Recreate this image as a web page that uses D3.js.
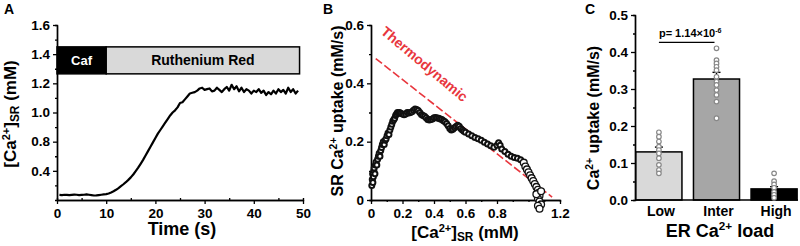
<!DOCTYPE html>
<html>
<head>
<meta charset="utf-8">
<script src="https://cdn.jsdelivr.net/npm/d3@7"></script>
<style>
    body { margin: 0; background: #fff; }
    svg text { font-family: "Liberation Sans", Arial, sans-serif; font-weight: bold; }
</style>
</head>
<body>
<svg id="chart"></svg>
<script>
// ---- Panel A : SR Ca trace ----
const traceTime = [0.5, 1, 1.5, 2, 2.5, 3, 3.5, 4, 4.5, 5, 5.5, 6, 6.5, 7, 7.5, 8, 8.5, 9, 9.5,
    10, 10.5, 11, 11.5, 12, 12.5, 13, 13.5, 14, 14.5, 15, 15.5, 16, 16.5, 17, 17.5, 18, 18.5, 19, 19.5,
    20, 20.5, 21, 21.5, 22, 22.5, 23, 23.5, 24, 24.5, 25, 25.5, 26, 26.5, 27, 27.5, 28, 28.5, 29, 29.5,
    30, 30.5, 31, 31.5, 32, 32.5, 33, 33.5, 34, 34.5, 35, 35.5, 36, 36.5, 37, 37.5, 38, 38.5, 39, 39.5,
    40, 40.5, 41, 41.5, 42, 42.5, 43, 43.5, 44, 44.5, 45, 45.5, 46, 46.5, 47, 47.5, 48, 48.5, 49];
const traceCa = [0.435, 0.434, 0.436, 0.435, 0.433, 0.435, 0.437, 0.436, 0.434, 0.435, 0.436, 0.438, 0.436, 0.434, 0.431, 0.432, 0.434, 0.436, 0.438,
    0.44, 0.445, 0.452, 0.46, 0.47, 0.482, 0.495, 0.508, 0.522, 0.538, 0.555, 0.575, 0.598, 0.622, 0.648, 0.675, 0.705, 0.735, 0.765, 0.795,
    0.825, 0.855, 0.88, 0.905, 0.93, 0.955, 0.98, 1.0, 1.015, 1.035, 1.065, 1.07, 1.09, 1.11, 1.13, 1.135, 1.14, 1.15, 1.165, 1.17,
    1.155, 1.16, 1.165, 1.145, 1.15, 1.17, 1.155, 1.14, 1.16, 1.175, 1.15, 1.19, 1.16, 1.18, 1.145, 1.17, 1.14, 1.16, 1.15, 1.13,
    1.15, 1.14, 1.16, 1.135, 1.15, 1.12, 1.14, 1.125, 1.15, 1.13, 1.16, 1.14, 1.155, 1.13, 1.17, 1.14, 1.16, 1.13, 1.15];
const protocolLabels = ['Caf', 'Ruthenium Red'];
const protocolStart = [0, 10];
const protocolEnd = [10, 49.3];
const aTicks = [0.6, 0.8, 1.0, 1.2, 1.4, 1.6];
const aTickLabels = ['0.4', '0.8', '1.0', '1.2', '1.4', '1.6'];   // as printed in the figure
const aTimeTicks = [0, 10, 20, 30, 40, 50];

// ---- Panel B : uptake vs SR Ca ----
const uptakeCa = [0.005, 0.008, 0.010, 0.012, 0.015, 0.018, 0.020, 0.025, 0.028, 0.032, 0.037, 0.042, 0.047, 0.052,
    0.057, 0.062, 0.067, 0.072, 0.078, 0.084, 0.090, 0.096, 0.102, 0.108, 0.114, 0.120, 0.126, 0.132, 0.138, 0.144,
    0.150, 0.156, 0.162, 0.168, 0.175, 0.182, 0.19, 0.20, 0.21, 0.22, 0.23, 0.24, 0.25, 0.26, 0.27, 0.28, 0.29, 0.30,
    0.31, 0.32, 0.33, 0.34, 0.35, 0.36, 0.37, 0.38, 0.39, 0.40, 0.41, 0.42, 0.43, 0.44, 0.45, 0.46, 0.47, 0.48, 0.49,
    0.50, 0.51, 0.52, 0.53, 0.54, 0.55, 0.56, 0.57, 0.58, 0.59, 0.60, 0.62, 0.64, 0.66, 0.68, 0.70, 0.72, 0.74, 0.76,
    0.78, 0.80, 0.81, 0.82, 0.83, 0.85, 0.87, 0.89, 0.91, 0.93, 0.95, 0.97, 0.98, 0.99, 1.00, 1.01, 1.02, 1.03, 1.04,
    1.05, 1.06, 1.065, 1.07, 1.06, 1.07, 1.08, 1.06, 1.07, 1.05, 1.08];
const uptakeRate = [0.05, 0.07, 0.09, 0.06, 0.08, 0.10, 0.11, 0.09, 0.12, 0.13, 0.12, 0.14, 0.15, 0.16,
    0.15, 0.17, 0.18, 0.19, 0.20, 0.19, 0.205, 0.21, 0.22, 0.23, 0.225, 0.24, 0.25, 0.26, 0.27, 0.275,
    0.28, 0.29, 0.295, 0.30, 0.298, 0.30, 0.297, 0.295, 0.292, 0.295, 0.30, 0.298, 0.30, 0.303, 0.308, 0.312, 0.31, 0.307,
    0.30, 0.293, 0.29, 0.287, 0.282, 0.276, 0.274, 0.276, 0.278, 0.282, 0.283, 0.281, 0.28, 0.278, 0.276, 0.272, 0.268, 0.262, 0.255,
    0.245, 0.24, 0.243, 0.248, 0.252, 0.256, 0.253, 0.245, 0.24, 0.236, 0.232, 0.226, 0.22, 0.214, 0.21, 0.205, 0.198, 0.192, 0.186,
    0.181, 0.188, 0.196, 0.188, 0.175, 0.166, 0.157, 0.15, 0.146, 0.143, 0.138, 0.128, 0.115, 0.105, 0.095, 0.085, 0.075, 0.065, 0.055,
    0.045, 0.035, 0.025, 0.015, 0.005, -0.005, -0.015, -0.02, -0.03, 0.02, 0.03];
const thermoCa = [0.03, 1.15];
const thermoRate = [0.485, 0.01];
const bXTicks = [0, 0.2, 0.4, 0.6, 0.8, 1.2];
const bYTicks = [0, 0.2, 0.4, 0.6];

// ---- Panel C : uptake by ER load ----
const loadCats = ['Low', 'Inter', 'High'];
const loadMeans = [0.13, 0.327, 0.03];
const loadSem = [0.013, 0.018, 0.006];
const loadColors = ['#d9d9d9', '#a6a6a6', '#000000'];
const lowDots = [0.183, 0.171, 0.158, 0.144, 0.135, 0.126, 0.113, 0.095, 0.081, 0.072];
const interDots = [0.41, 0.378, 0.369, 0.36, 0.351, 0.333, 0.32, 0.311, 0.297, 0.284, 0.266, 0.221];
const highDots = [0.072, 0.051, 0.042, 0.033, 0.022, 0.014, 0.006];
const cYTicks = [0, 0.1, 0.2, 0.3, 0.4, 0.5];

function drawChart() {
    const width = 800;
    const height = 246;
    const svg = d3.select('#chart')
        .attr('width', width)
        .attr('height', height);

    const tickFont = '13.5px';

    // helper to style axes the same way
    function styleAxis(g) {
        g.select('.domain').attr('stroke', '#000').attr('stroke-width', 1.4);
        g.selectAll('.tick line').attr('stroke', '#000').attr('stroke-width', 1.3);
        g.selectAll('.tick text').style('font-size', tickFont).attr('fill', '#000');
    }

    // label with superscripts/subscripts, parts = [[text, 'sup'|'sub'|null], ...]
    function richText(sel, parts, size) {
        parts.forEach((p, i) => {
            const t = sel.append('tspan').text(p[0]);
            const prev = i > 0 ? parts[i - 1][1] : null;
            if (p[1] === 'sup') t.attr('dy', -size * 0.38).style('font-size', (size * 0.65) + 'px');
            else if (p[1] === 'sub') t.attr('dy', size * 0.2).style('font-size', (size * 0.7) + 'px');
            else {
                t.style('font-size', size + 'px');
                if (prev === 'sup') t.attr('dy', size * 0.38);
                if (prev === 'sub') t.attr('dy', -size * 0.2);
            }
        });
    }

    // panel letters
    [['A', 4], ['B', 323], ['C', 585]].forEach(d => {
        svg.append('text').text(d[0]).attr('x', d[1]).attr('y', 14).style('font-size', '14px');
    });

    // ================= Panel A =================
    const xA = d3.scaleLinear().domain([0, 50]).range([57, 303]);
    const yA = d3.scaleLinear().domain([0.4, 1.6]).range([200, 25]);

    svg.append('g')
        .attr('transform', 'translate(0,200)')
        .call(d3.axisBottom(xA).tickValues([5, 15, 25, 35, 45]).tickSize(-2).tickFormat(''))
        .call(styleAxis);
    svg.append('g')
        .attr('transform', 'translate(0,200)')
        .call(d3.axisBottom(xA).tickValues(aTimeTicks).tickSize(4).tickPadding(4).tickSizeOuter(0))
        .call(styleAxis);

    svg.append('g')
        .attr('transform', 'translate(57,0)')
        .call(d3.axisLeft(yA).tickValues([0.5, 0.7, 0.9, 1.1, 1.3, 1.5]).tickSize(2).tickFormat(''))
        .call(styleAxis);
    svg.append('g')
        .attr('transform', 'translate(57,0)')
        .call(d3.axisLeft(yA).tickValues(aTicks).tickSize(4).tickPadding(3).tickSizeOuter(0)
            .tickFormat((d, i) => aTickLabels[i]))
        .call(styleAxis);

    // protocol bars
    const boxTop = yA(1.45), boxBot = yA(1.265);
    protocolLabels.forEach((lab, i) => {
        svg.append('rect')
            .attr('x', xA(protocolStart[i]))
            .attr('y', boxTop)
            .attr('width', xA(protocolEnd[i]) - xA(protocolStart[i]))
            .attr('height', boxBot - boxTop)
            .attr('fill', i === 0 ? '#000' : '#d9d9d9')
            .attr('stroke', '#000')
            .attr('stroke-width', 1.5);
        svg.append('text')
            .text(lab)
            .attr('x', (xA(protocolStart[i]) + xA(protocolEnd[i])) / 2)
            .attr('y', (boxTop + boxBot) / 2 + 5)
            .attr('text-anchor', 'middle')
            .attr('fill', i === 0 ? '#fff' : '#000')
            .style('font-size', i === 0 ? '13px' : '14px');
    });

    const lineA = d3.line()
        .x((d, i) => xA(traceTime[i]))
        .y(d => yA(d));
    svg.append('path')
        .datum(traceCa)
        .attr('d', lineA)
        .attr('fill', 'none')
        .attr('stroke', '#000')
        .attr('stroke-width', 2.2)
        .attr('stroke-linejoin', 'round');

    svg.append('text')
        .text('Time (s)')
        .attr('x', 182)
        .attr('y', 235)
        .attr('text-anchor', 'middle')
        .style('font-size', '18px');

    const yLabA = svg.append('text')
        .attr('transform', 'translate(16,114) rotate(-90)')
        .attr('text-anchor', 'middle');
    richText(yLabA, [['[Ca', null], ['2+', 'sup'], [']', null], ['SR', 'sub'], [' (mM)', null]], 17);

    // ================= Panel B =================
    const xB = d3.scaleLinear().domain([0, 1.2]).range([371, 560]);
    const yB = d3.scaleLinear().domain([0, 0.6]).range([200, 25]);

    svg.append('g')
        .attr('transform', 'translate(0,200)')
        .call(d3.axisBottom(xB).tickValues([0.1, 0.3, 0.5, 0.7, 0.9, 1.0, 1.1]).tickSize(2).tickFormat(''))
        .call(styleAxis);
    svg.append('g')
        .attr('transform', 'translate(0,200)')
        .call(d3.axisBottom(xB).tickValues(bXTicks).tickSize(4).tickPadding(4).tickSizeOuter(0)
            .tickFormat(d => d === 0 ? '0' : d3.format('.1f')(d)))
        .call(styleAxis);
    svg.append('g')
        .attr('transform', 'translate(371,0)')
        .call(d3.axisLeft(yB).tickValues([0.1, 0.3, 0.5]).tickSize(2).tickFormat(''))
        .call(styleAxis);
    svg.append('g')
        .attr('transform', 'translate(371,0)')
        .call(d3.axisLeft(yB).tickValues(bYTicks).tickSize(4).tickPadding(3).tickSizeOuter(0)
            .tickFormat(d => d === 0 ? '0' : d3.format('.1f')(d)))
        .call(styleAxis);

    // thermodynamic limit line
    svg.append('line')
        .attr('x1', xB(thermoCa[0])).attr('y1', yB(thermoRate[0]))
        .attr('x2', xB(thermoCa[1])).attr('y2', yB(thermoRate[1]))
        .attr('stroke', '#e8363d')
        .attr('stroke-width', 1.6)
        .attr('stroke-dasharray', '8,3');
    svg.append('text')
        .text('Thermodynamic')
        .attr('transform', 'translate(380,33) rotate(40)')
        .attr('fill', '#e8363d')
        .style('font-size', '14px');

    svg.selectAll('.pt')
        .data(uptakeCa)
        .enter().append('circle')
        .attr('class', 'pt')
        .attr('cx', d => xB(d))
        .attr('cy', (d, i) => yB(uptakeRate[i]))
        .attr('r', d => d > 0.95 ? 3.4 : 2.5)
        .attr('fill', '#fff')
        .attr('stroke', '#111')
        .attr('stroke-width', d => d > 0.95 ? 1.3 : 2);

    const xLabB = svg.append('text')
        .attr('x', 465)
        .attr('y', 238)
        .attr('text-anchor', 'middle');
    richText(xLabB, [['[Ca', null], ['2+', 'sup'], [']', null], ['SR', 'sub'], [' (mM)', null]], 17);

    const yLabB = svg.append('text')
        .attr('transform', 'translate(343,111) rotate(-90)')
        .attr('text-anchor', 'middle');
    richText(yLabB, [['SR Ca', null], ['2+', 'sup'], [' uptake (mM/s)', null]], 16);

    // ================= Panel C =================
    const xC = d3.scaleBand().domain(loadCats).range([633, 800]).paddingInner(0.2).paddingOuter(0.05);
    const yC = d3.scaleLinear().domain([0, 0.5]).range([200, 15]);

    svg.append('g')
        .attr('transform', 'translate(635,0)')
        .call(d3.axisLeft(yC).tickValues([0.05, 0.15, 0.25, 0.35, 0.45]).tickSize(2).tickFormat(''))
        .call(styleAxis);
    svg.append('g')
        .attr('transform', 'translate(635,0)')
        .call(d3.axisLeft(yC).tickValues(cYTicks).tickSize(4).tickPadding(3).tickSizeOuter(0)
            .tickFormat(d3.format('.1f')))
        .call(styleAxis);

    svg.selectAll('.bar')
        .data(loadCats)
        .enter().append('rect')
        .attr('class', 'bar')
        .attr('x', d => xC(d))
        .attr('width', xC.bandwidth())
        .attr('y', (d, i) => yC(loadMeans[i]))
        .attr('height', (d, i) => 200 - yC(loadMeans[i]))
        .attr('fill', (d, i) => loadColors[i])
        .attr('stroke', '#000')
        .attr('stroke-width', 1.5);

    // x axis line for C
    svg.append('line')
        .attr('x1', 635).attr('x2', 798)
        .attr('y1', 200).attr('y2', 200)
        .attr('stroke', '#000').attr('stroke-width', 1.4);

    // error bars
    loadCats.forEach((c, i) => {
        const cx = xC(c) + xC.bandwidth() / 2;
        svg.append('line')
            .attr('x1', cx).attr('x2', cx)
            .attr('y1', yC(loadMeans[i])).attr('y2', yC(loadMeans[i] + loadSem[i]))
            .attr('stroke', i === 2 ? '#fff' : '#000').attr('stroke-width', 1.4);
        svg.append('line')
            .attr('x1', cx - 4).attr('x2', cx + 4)
            .attr('y1', yC(loadMeans[i] + loadSem[i])).attr('y2', yC(loadMeans[i] + loadSem[i]))
            .attr('stroke', '#000').attr('stroke-width', 1.4);
    });

    // individual cells
    [lowDots, interDots, highDots].forEach((vals, i) => {
        const cx = xC(loadCats[i]) + xC.bandwidth() / 2;
        svg.selectAll('.dot' + i)
            .data(vals)
            .enter().append('circle')
            .attr('class', 'dot' + i)
            .attr('cx', cx)
            .attr('cy', d => yC(d))
            .attr('r', 2.3)
            .attr('fill', '#fff')
            .attr('stroke', '#888')
            .attr('stroke-width', 1.2);
    });

    // significance bracket
    const pLeft = xC('Low') + xC.bandwidth() / 2;
    const pRight = xC('Inter') + xC.bandwidth() / 2 - 2;
    svg.append('line')
        .attr('x1', pLeft).attr('x2', pRight)
        .attr('y1', yC(0.426)).attr('y2', yC(0.426))
        .attr('stroke', '#000').attr('stroke-width', 1.3);
    const pText = svg.append('text').attr('x', pLeft).attr('y', 37);
    richText(pText, [['p= 1.14\u00d710', null], ['-6', 'sup']], 11);

    svg.selectAll('.cat')
        .data(loadCats)
        .enter().append('text')
        .attr('class', 'cat')
        .text(d => d)
        .attr('x', d => xC(d) + xC.bandwidth() / 2 + 2)
        .attr('y', 216)
        .attr('text-anchor', 'middle')
        .style('font-size', '14px');

    const xLabC = svg.append('text')
        .attr('x', 720)
        .attr('y', 237)
        .attr('text-anchor', 'middle');
    richText(xLabC, [['ER Ca', null], ['2+', 'sup'], [' load', null]], 18);

    const yLabC = svg.append('text')
        .attr('transform', 'translate(599,118) rotate(-90)')
        .attr('text-anchor', 'middle');
    richText(yLabC, [['Ca', null], ['2+', 'sup'], [' uptake (mM/s)', null]], 16);
}

window.addEventListener('load', drawChart);
</script>
</body>
</html>
